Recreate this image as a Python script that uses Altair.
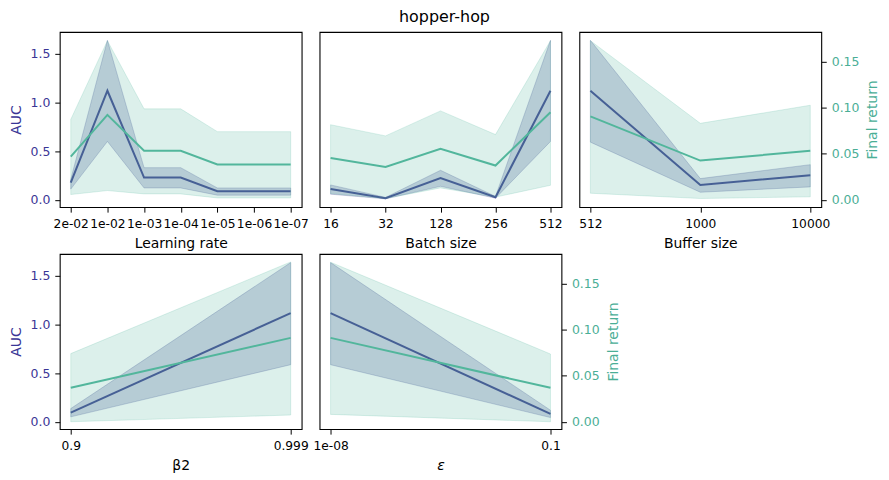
import altair as alt
import pandas as pd

# ---------------- data ----------------
lr_labels = ["2e-02", "1e-02", "1e-03", "1e-04", "1e-05", "1e-06", "1e-07"]
lr_auc = [0.177, 1.119, 0.228, 0.228, 0.088, 0.088, 0.088]
lr_auc_lo = [0.11, 0.599, 0.122, 0.122, 0.048, 0.048, 0.048]
lr_auc_hi = [0.21, 1.636, 0.33, 0.33, 0.122, 0.122, 0.122]
lr_fr = [0.0468, 0.0921, 0.0532, 0.0532, 0.0382, 0.0382, 0.0382]
lr_fr_lo = [0.0057, 0.010, 0.0064, 0.0064, 0.002, 0.002, 0.002]
lr_fr_hi = [0.0871, 0.1725, 0.0986, 0.0986, 0.0739, 0.0739, 0.0739]

bs_labels = ["16", "32", "128", "256", "512"]
bs_auc = [0.112, 0.017, 0.224, 0.027, 1.119]
bs_auc_lo = [0.058, 0.010, 0.139, 0.017, 0.599]
bs_auc_hi = [0.153, 0.025, 0.303, 0.035, 1.636]
bs_fr = [0.0454, 0.0357, 0.0554, 0.0371, 0.095]
bs_fr_lo = [0.0068, 0.0014, 0.0129, 0.0029, 0.0157]
bs_fr_hi = [0.0814, 0.0693, 0.0964, 0.0707, 0.1725]

buf_labels = ["512", "1000", "10000"]
buf_auc = [1.119, 0.153, 0.252]
buf_auc_lo = [0.592, 0.078, 0.133]
buf_auc_hi = [1.636, 0.218, 0.361]
buf_fr = [0.0904, 0.0425, 0.0532]
buf_fr_lo = [0.0071, 0.0014, 0.0032]
buf_fr_hi = [0.1725, 0.0829, 0.1025]

b2_labels = ["0.9", "0.999"]
b2_auc = [0.095, 1.115]
b2_auc_lo = [0.051, 0.586]
b2_auc_hi = [0.136, 1.633]
b2_fr = [0.0368, 0.091]
b2_fr_lo = [0.0, 0.0073]
b2_fr_hi = [0.0739, 0.1733]

eps_labels = ["1e-08", "0.1"]
eps_auc = [1.115, 0.082]
eps_auc_lo = [0.586, 0.044]
eps_auc_hi = [1.633, 0.119]
eps_fr = [0.091, 0.0368]
eps_fr_lo = [0.008, 0.0]
eps_fr_hi = [0.173, 0.0735]

# ---------------- style ----------------
BLUE = "#444b94"
BLUE_TXT = "#3a3596"
TEAL = "#52b69c"
TEAL_TXT = "#4aae96"
FONT = "DejaVu Sans"
W, H = 243, 176
AUC_DOM = [-0.075, 1.722]
FR_DOM = [-0.008, 0.182]


def y_axis(kind, show):
    if not show:
        return None
    if kind == "auc":
        return alt.Axis(title="AUC", orient="left", values=[0, 0.5, 1.0, 1.5],
                        format=".1f", grid=False, domain=False,
                        tickSize=5, tickColor="black", labelPadding=5,
                        labelFontSize=12.5, labelColor=BLUE_TXT, labelFont=FONT,
                        titleFontSize=14, titleColor=BLUE_TXT, titleFont=FONT,
                        titleFontWeight="normal", titlePadding=7)
    return alt.Axis(title="Final return", orient="right",
                    values=[0, 0.05, 0.10, 0.15], format=".2f", grid=False,
                    domain=False, tickSize=5, tickColor="black", labelPadding=5,
                    labelFontSize=12.5, labelColor=TEAL_TXT, labelFont=FONT,
                    titleFontSize=14, titleColor=TEAL_TXT, titleFont=FONT,
                    titleFontWeight="normal", titlePadding=7, titleAngle=270,
                    titleBaseline="top")


def panel(labels, auc, auc_lo, auc_hi, fr, fr_lo, fr_hi, xtitle,
          show_auc, show_fr, italic=False):
    df = pd.DataFrame({"x": labels, "auc": auc, "auc_lo": auc_lo,
                       "auc_hi": auc_hi, "fr": fr, "fr_lo": fr_lo,
                       "fr_hi": fr_hi})
    n = len(labels)
    xaxis = alt.Axis(title=xtitle, labelAngle=0, grid=False, domain=False,
                     tickSize=5, tickColor="black", labelPadding=5,
                     labelFontSize=12.3, labelFont=FONT, labelColor="black",
                     labelOverlap=False, labelFlush=False,
                     titleFontSize=14, titleFont=FONT, titleColor="black",
                     titleFontWeight="normal", titlePadding=7,
                     titleFontStyle="italic" if italic else "normal")
    xenc = alt.X("x:O", sort=labels,
                 scale=alt.Scale(type="point", padding=0.05 * (n - 1)),
                 axis=xaxis)
    base = alt.Chart(df)
    sc_auc = alt.Scale(domain=AUC_DOM, nice=False, zero=False)
    sc_fr = alt.Scale(domain=FR_DOM, nice=False, zero=False)
    ax_auc = y_axis("auc", show_auc)
    ax_fr = y_axis("fr", show_fr)

    blue = alt.layer(
        base.mark_area(color=BLUE, fillOpacity=0.25, stroke=BLUE,
                       strokeOpacity=0.25, strokeWidth=1).encode(
            x=xenc,
            y=alt.Y("auc_lo:Q", scale=sc_auc, axis=ax_auc, title="AUC"),
            y2="auc_hi:Q"),
        base.mark_line(color=BLUE, strokeWidth=2).encode(
            x=xenc,
            y=alt.Y("auc:Q", scale=sc_auc, axis=ax_auc, title="AUC")),
    )
    teal = alt.layer(
        base.mark_area(color=TEAL, fillOpacity=0.2, stroke=TEAL,
                       strokeOpacity=0.2, strokeWidth=1).encode(
            x=xenc,
            y=alt.Y("fr_lo:Q", scale=sc_fr, axis=ax_fr, title="Final return"),
            y2="fr_hi:Q"),
        base.mark_line(color=TEAL, strokeWidth=2).encode(
            x=xenc,
            y=alt.Y("fr:Q", scale=sc_fr, axis=ax_fr, title="Final return")),
    )
    return alt.layer(blue, teal).resolve_scale(y="independent").properties(
        width=W, height=H)


p1 = panel(lr_labels, lr_auc, lr_auc_lo, lr_auc_hi, lr_fr, lr_fr_lo, lr_fr_hi,
           "Learning rate", True, False)
p2 = panel(bs_labels, bs_auc, bs_auc_lo, bs_auc_hi, bs_fr, bs_fr_lo, bs_fr_hi,
           "Batch size", False, False)
p3 = panel(buf_labels, buf_auc, buf_auc_lo, buf_auc_hi, buf_fr, buf_fr_lo,
           buf_fr_hi, "Buffer size", False, True)
p4 = panel(b2_labels, b2_auc, b2_auc_lo, b2_auc_hi, b2_fr, b2_fr_lo, b2_fr_hi,
           "β2", True, False)
p5 = panel(eps_labels, eps_auc, eps_auc_lo, eps_auc_hi, eps_fr, eps_fr_lo,
           eps_fr_hi, "ε", False, True, italic=True)

row1 = alt.hconcat(p1, p2, p3, spacing=18, bounds="flush")
row2 = alt.hconcat(p4, p5, spacing=18, bounds="flush")

chart = alt.vconcat(row1, row2, spacing=2).properties(
    title=alt.TitleParams("hopper-hop", fontSize=16, font=FONT,
                          fontWeight="normal", anchor="middle", color="black",
                          offset=6),
    padding=0,
    background="white",
).configure_view(stroke="black", strokeWidth=1.1)

chart.save("out.html", embed_options={"renderer": "svg", "actions": False})
